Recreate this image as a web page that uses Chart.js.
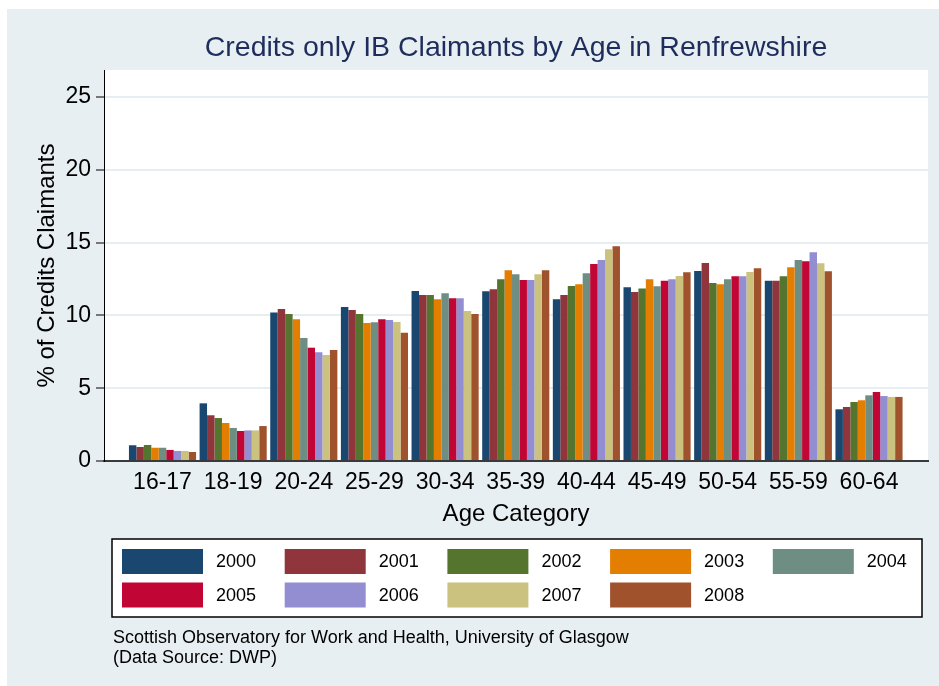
<!DOCTYPE html>
<html>
<head>
<meta charset="utf-8">
<script src="https://cdn.jsdelivr.net/npm/chart.js@4.4.1/dist/chart.umd.min.js"></script>
<style>
  html, body { margin: 0; padding: 0; background: #fff; }
</style>
</head>
<body>
<canvas id="chart-area" width="939" height="686"></canvas>
<script>
var categories = ['16-17', '18-19', '20-24', '25-29', '30-34', '35-39', '40-44', '45-49', '50-54', '55-59', '60-64'];
var years = ['2000', '2001', '2002', '2003', '2004', '2005', '2006', '2007', '2008'];
var yTicks = [0, 5, 10, 15, 20, 25];

var v2000 = [1.08, 3.96, 10.19, 10.58, 11.68, 11.65, 11.10, 11.93, 13.05, 12.38, 3.55];
var v2001 = [0.96, 3.14, 10.44, 10.37, 11.40, 11.79, 11.40, 11.60, 13.60, 12.38, 3.71];
var v2002 = [1.10, 2.95, 10.10, 10.10, 11.40, 12.48, 12.02, 11.84, 12.23, 12.69, 4.05];
var v2003 = [0.91, 2.61, 9.73, 9.48, 11.10, 13.10, 12.13, 12.48, 12.13, 13.30, 4.17];
var v2004 = [0.91, 2.27, 8.45, 9.53, 11.52, 12.82, 12.89, 12.00, 12.48, 13.80, 4.51];
var v2005 = [0.76, 2.06, 7.78, 9.73, 11.17, 12.43, 13.53, 12.38, 12.69, 13.71, 4.74];
var v2006 = [0.69, 2.10, 7.46, 9.68, 11.17, 12.43, 13.80, 12.48, 12.69, 14.33, 4.46];
var v2007 = [0.69, 2.10, 7.28, 9.55, 10.30, 12.82, 14.54, 12.71, 12.98, 13.58, 4.40];
var v2008 = [0.62, 2.40, 7.62, 8.81, 10.10, 13.10, 14.74, 12.96, 13.23, 13.03, 4.40];
var values = [v2000, v2001, v2002, v2003, v2004, v2005, v2006, v2007, v2008];

// stata s2color palette
var yearColors = ['#1a476f', '#90353b', '#55752f', '#e37e00', '#6e8e84',
                  '#c10534', '#938dd2', '#cac27e', '#a0522d'];

var fontFam = '"Liberation Sans", Arial, Helvetica, sans-serif';
var regionBg = '#e8eff2';

var datasets = years.map(function (yr, i) {
  return {
    label: yr,
    data: values[i].map(function (v, j) { return { x: j, y: v }; }),
    backgroundColor: yearColors[i],
    borderWidth: 0,
    categoryPercentage: 0.95,
    barPercentage: 1.0
  };
});

// graph region + white plot region
var backdrop = {
  id: 'backdrop',
  beforeDraw: function (chart) {
    var ctx = chart.ctx, a = chart.chartArea;
    ctx.save();
    ctx.fillStyle = regionBg;
    ctx.fillRect(7, 9, chart.width - 7, chart.height - 9);
    ctx.fillStyle = '#ffffff';
    ctx.fillRect(a.left, a.top, a.right - a.left, a.bottom - a.top);
    ctx.restore();
  }
};

// boxed legend in a 5 column grid, plus source note
var keyBox = {
  id: 'keyBox',
  afterDraw: function (chart) {
    var ctx = chart.ctx;
    ctx.save();
    ctx.fillStyle = '#ffffff';
    ctx.fillRect(112, 539, 810, 78);
    ctx.strokeStyle = '#000';
    ctx.lineWidth = 1.5;
    ctx.strokeRect(112, 539, 810, 78);

    ctx.font = '18px ' + fontFam;
    ctx.textBaseline = 'middle';
    ctx.textAlign = 'left';
    chart.data.datasets.forEach(function (ds, i) {
      var col = i % 5, row = Math.floor(i / 5);
      var x = 122 + col * 162.7;
      var y = 549 + row * 33.5;
      ctx.fillStyle = ds.backgroundColor;
      ctx.fillRect(x, y, 81, 25);
      ctx.fillStyle = '#000';
      ctx.fillText(ds.label, x + 94, y + 13.5);
    });

    ctx.font = '18px ' + fontFam;
    ctx.fillStyle = '#000';
    ctx.fillText('Scottish Observatory for Work and Health, University of Glasgow', 113, 638);
    ctx.fillText('(Data Source: DWP)', 113, 658);
    ctx.restore();
  }
};

var config = {
  type: 'bar',
  data: { datasets: datasets },
  options: {
    responsive: false,
    animation: false,
    layout: { padding: { left: 0, right: 11, top: 0, bottom: 155 } },
    plugins: {
      legend: { display: false },
      tooltip: { enabled: false },
      title: {
        display: true,
        fullSize: false,
        text: 'Credits only IB Claimants by Age in Renfrewshire',
        color: '#1e2d5c',
        font: { family: fontFam, size: 28.5, weight: 'normal' },
        padding: { top: 31, bottom: 4.8 }
      }
    },
    scales: {
      x: {
        type: 'linear',
        min: -0.828,
        max: 10.835,
        offset: false,
        afterBuildTicks: function (scale) {
          scale.ticks = categories.map(function (c, i) { return { value: i }; });
        },
        afterFit: function (scale) { scale.height = 70; },
        grid: { display: false, drawTicks: false },
        border: { display: true, color: '#3a3a3a', width: 2 },
        ticks: {
          autoSkip: false,
          maxRotation: 0,
          padding: 8,
          color: '#000',
          font: { family: fontFam, size: 23 },
          callback: function (v) { return categories[v]; }
        },
        title: {
          display: true,
          text: 'Age Category',
          color: '#000',
          font: { family: fontFam, size: 24 },
          padding: { top: 0, bottom: 2 }
        }
      },
      y: {
        min: 0,
        max: 26.85,
        afterBuildTicks: function (scale) {
          scale.ticks = yTicks.map(function (v) { return { value: v }; });
        },
        afterFit: function (scale) { scale.width = 104; },
        grid: {
          color: '#e6eef1',
          lineWidth: 2,
          tickColor: '#000',
          tickLength: 8,
          tickWidth: 1
        },
        border: { display: true, color: '#000', width: 1 },
        ticks: {
          padding: 5,
          color: '#000',
          font: { family: fontFam, size: 23 }
        },
        title: {
          display: true,
          text: '% of Credits Claimants',
          color: '#000',
          font: { family: fontFam, size: 24 },
          padding: { top: 33, bottom: 0 }
        }
      }
    }
  },
  plugins: [backdrop, keyBox]
};

window.onload = function () {
  var ctx = document.getElementById('chart-area').getContext('2d');
  window.myBar = new Chart(ctx, config);
};
</script>
</body>
</html>
